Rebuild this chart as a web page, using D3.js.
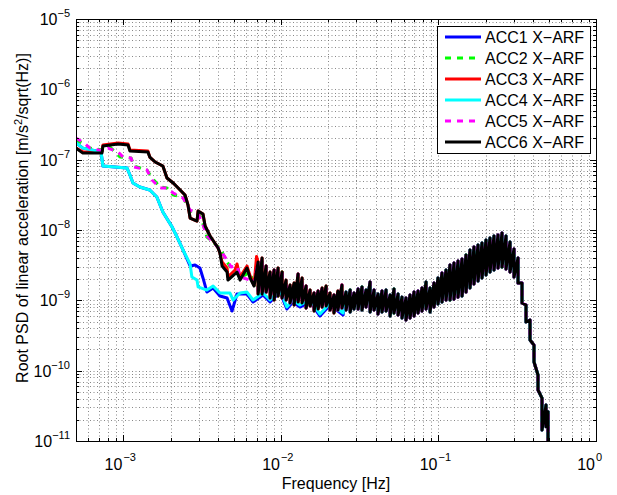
<!DOCTYPE html>
<html>
<head>
<meta charset="utf-8">
<script src="https://cdn.jsdelivr.net/npm/d3@7"></script>
<style>
  body { margin: 0; background: #fff; }
  svg text { font-family: "Liberation Sans", Arial, Helvetica, sans-serif; fill: #000; }
</style>
</head>
<body>
<svg id="chart" width="617" height="495"></svg>
<script>
// [frequency Hz, root PSD m/s^2/sqrt(Hz)]

// ACC1 (blue) low-frequency part
const acc1Low = [
  [5.00e-4, 1.73e-7], [5.53e-4, 1.46e-7], [7.21e-4, 1.29e-7], [7.41e-4, 8.13e-8],
  [1.054e-3, 7.61e-8], [1.10e-3, 6.05e-8], [1.15e-3, 4.66e-8], [1.27e-3, 4.09e-8],
  [1.47e-3, 3.70e-8], [1.63e-3, 2.94e-8], [1.78e-3, 1.80e-8], [2.04e-3, 1.10e-8],
  [2.19e-3, 7.95e-9], [2.39e-3, 5.20e-9], [2.65e-3, 3.08e-9], [2.85e-3, 3.18e-9],
  [3.06e-3, 2.88e-9], [3.20e-3, 2.08e-9], [3.39e-3, 1.31e-9], [3.71e-3, 1.50e-9],
  [4.10e-3, 1.15e-9], [4.55e-3, 1.08e-9], [4.89e-3, 7.04e-10], [5.26e-3, 1.23e-9],
  [6.09e-3, 1.23e-9], [6.65e-3, 9.46e-10], [7.69e-3, 1.19e-9], [8.53e-3, 9.46e-10],
  [9.87e-3, 1.31e-9], [1.09e-2, 7.52e-10], [1.19e-2, 9.46e-10], [1.32e-2, 8.03e-10],
  [1.53e-2, 9.46e-10], [1.77e-2, 5.98e-10], [2.05e-2, 8.58e-10], [2.48e-2, 6.18e-10]
];

// ACC2 (green, dashed)
const acc2Low = [
  [5.00e-4, 1.90e-7], [5.62e-4, 1.67e-7], [6.13e-4, 1.46e-7], [7.41e-4, 1.37e-7],
  [8.22e-4, 1.51e-7], [9.51e-4, 1.09e-7], [1.117e-3, 1.06e-7], [1.168e-3, 8.13e-8],
  [1.41e-3, 7.13e-8], [1.52e-3, 5.49e-8], [1.71e-3, 4.09e-8], [1.89e-3, 3.95e-8],
  [2.07e-3, 3.14e-8], [2.39e-3, 2.94e-8], [2.65e-3, 1.86e-8], [2.98e-3, 1.80e-8],
  [3.16e-3, 1.34e-8], [3.39e-3, 7.95e-9], [3.82e-3, 6.32e-9], [4.10e-3, 5.55e-9],
  [4.55e-3, 3.51e-9], [4.82e-3, 2.88e-9], [5.26e-3, 2.45e-9], [5.50e-3, 2.08e-9],
  [6.37e-3, 2.53e-9], [6.75e-3, 1.55e-9]
];

// ACC3 (red)
const acc3Low = [
  [5.00e-4, 1.46e-7], [5.53e-4, 1.29e-7], [7.31e-4, 1.29e-7], [7.41e-4, 1.62e-7],
  [9.24e-4, 1.73e-7], [1.07e-3, 1.67e-7], [1.10e-3, 1.37e-7], [1.43e-3, 1.33e-7],
  [1.47e-3, 1.09e-7], [1.59e-3, 9.27e-8], [1.78e-3, 8.13e-8], [1.89e-3, 5.49e-8],
  [2.07e-3, 4.66e-8], [2.29e-3, 3.70e-8], [2.46e-3, 3.14e-8], [2.57e-3, 2.27e-8],
  [2.65e-3, 1.48e-8], [2.93e-3, 1.34e-8], [2.98e-3, 1.86e-8], [3.20e-3, 1.69e-8],
  [3.30e-3, 1.14e-8], [3.55e-3, 8.22e-9], [3.99e-3, 5.55e-9], [4.10e-3, 4.71e-9],
  [4.23e-3, 3.51e-9], [4.55e-3, 2.88e-9], [4.61e-3, 2.15e-9], [5.11e-3, 2.70e-9],
  [5.26e-3, 3.29e-9], [5.50e-3, 2.15e-9], [6.09e-3, 3.08e-9], [6.37e-3, 2.22e-9],
  [6.75e-3, 1.65e-9], [7.00e-3, 4.20e-9]
];

// ACC4 (cyan)
const acc4Low = [
  [5.00e-4, 1.73e-7], [5.53e-4, 1.46e-7], [7.21e-4, 1.29e-7], [7.41e-4, 8.13e-8],
  [1.054e-3, 7.61e-8], [1.10e-3, 6.05e-8], [1.15e-3, 4.66e-8], [1.27e-3, 4.09e-8],
  [1.47e-3, 3.70e-8], [1.63e-3, 2.94e-8], [1.78e-3, 1.80e-8], [2.04e-3, 1.10e-8],
  [2.19e-3, 7.95e-9], [2.39e-3, 5.20e-9], [2.65e-3, 3.29e-9], [2.72e-3, 2.15e-9],
  [2.93e-3, 1.94e-9], [2.98e-3, 1.55e-9], [3.39e-3, 1.40e-9], [3.71e-3, 1.60e-9],
  [4.10e-3, 1.27e-9], [4.75e-3, 1.27e-9], [4.97e-3, 1.01e-9], [5.50e-3, 1.27e-9],
  [6.09e-3, 1.31e-9], [6.65e-3, 1.01e-9], [7.69e-3, 1.27e-9], [8.53e-3, 1.01e-9],
  [9.87e-3, 1.40e-9], [1.09e-2, 8.03e-10], [1.19e-2, 1.01e-9], [1.32e-2, 8.58e-10],
  [1.53e-2, 1.01e-9], [1.77e-2, 6.38e-10], [2.05e-2, 9.16e-10], [2.48e-2, 6.60e-10]
];

// ACC5 (magenta, dashed)
const acc5Low = [
  [5.00e-4, 2.03e-7], [5.62e-4, 1.73e-7], [6.13e-4, 1.46e-7], [7.41e-4, 1.33e-7],
  [7.98e-4, 1.46e-7], [9.24e-4, 1.29e-7], [9.93e-4, 1.09e-7], [1.117e-3, 1.06e-7],
  [1.168e-3, 7.87e-8], [1.41e-3, 7.13e-8], [1.52e-3, 5.14e-8], [1.71e-3, 3.95e-8],
  [1.89e-3, 3.95e-8], [2.07e-3, 3.36e-8], [2.39e-3, 2.85e-8], [2.65e-3, 1.92e-8],
  [2.98e-3, 1.69e-8], [3.16e-3, 1.30e-8], [3.39e-3, 8.22e-9], [3.82e-3, 6.32e-9],
  [4.10e-3, 5.20e-9], [4.55e-3, 3.75e-9], [4.82e-3, 2.98e-9], [5.26e-3, 3.08e-9],
  [5.50e-3, 2.15e-9], [6.37e-3, 1.94e-9], [6.75e-3, 1.71e-9]
];

// ACC6 (black)
const acc6Low = [
  [5.00e-4, 1.46e-7], [5.53e-4, 1.24e-7], [7.31e-4, 1.24e-7], [7.41e-4, 1.56e-7],
  [9.24e-4, 1.67e-7], [1.07e-3, 1.62e-7], [1.10e-3, 1.33e-7], [1.43e-3, 1.29e-7],
  [1.47e-3, 1.09e-7], [1.59e-3, 9.27e-8], [1.78e-3, 8.13e-8], [1.89e-3, 5.49e-8],
  [2.07e-3, 4.66e-8], [2.29e-3, 3.70e-8], [2.46e-3, 3.14e-8], [2.57e-3, 2.27e-8],
  [2.65e-3, 1.48e-8], [2.93e-3, 1.34e-8], [2.98e-3, 1.86e-8], [3.20e-3, 1.69e-8],
  [3.30e-3, 1.14e-8], [3.55e-3, 8.22e-9], [3.99e-3, 5.55e-9], [4.10e-3, 4.71e-9],
  [4.23e-3, 3.08e-9], [4.55e-3, 2.53e-9], [4.61e-3, 1.94e-9], [5.11e-3, 2.37e-9],
  [5.26e-3, 2.53e-9], [5.50e-3, 1.94e-9], [6.09e-3, 2.88e-9], [6.37e-3, 2.08e-9],
  [6.75e-3, 1.60e-9]
];

// common high-frequency part (all six overlap): [frequency, band top, band bottom]
// the fast noise makes the trace a solid band between these two edges
const sharedBand = [
  [7.16e-3, 3.51e-9, 1.23e-9], [7.59e-3, 4.00e-9, 1.23e-9], [8.05e-3, 3.08e-9, 1.31e-9],
  [8.53e-3, 2.53e-9, 1.08e-9], [9.05e-3, 2.70e-9, 1.01e-9], [9.59e-3, 2.88e-9, 1.15e-9],
  [1.017e-2, 2.53e-9, 1.08e-9], [1.078e-2, 1.94e-9, 1.01e-9], [1.143e-2, 1.65e-9, 9.16e-10],
  [1.212e-2, 1.76e-9, 8.58e-10], [1.285e-2, 2.37e-9, 9.46e-10], [1.362e-2, 2.08e-9, 9.16e-10],
  [1.444e-2, 1.60e-9, 7.77e-10], [1.531e-2, 1.40e-9, 8.30e-10], [1.623e-2, 1.27e-9, 7.04e-10],
  [1.721e-2, 1.36e-9, 7.52e-10], [1.825e-2, 1.50e-9, 8.03e-10], [1.935e-2, 1.60e-9, 8.30e-10],
  [2.05e-2, 1.27e-9, 7.28e-10], [2.17e-2, 1.19e-9, 6.60e-10], [2.30e-2, 1.36e-9, 7.28e-10],
  [2.44e-2, 1.65e-9, 7.77e-10], [2.59e-2, 1.31e-9, 7.28e-10], [2.75e-2, 1.40e-9, 6.82e-10],
  [2.91e-2, 1.27e-9, 7.52e-10], [3.09e-2, 1.45e-9, 7.52e-10], [3.27e-2, 1.55e-9, 7.28e-10],
  [3.47e-2, 1.40e-9, 8.03e-10], [3.68e-2, 1.82e-9, 6.82e-10], [3.90e-2, 1.40e-9, 7.28e-10],
  [4.13e-2, 1.23e-9, 6.38e-10], [4.38e-2, 1.36e-9, 6.82e-10], [4.65e-2, 1.40e-9, 7.04e-10],
  [4.93e-2, 1.19e-9, 5.98e-10], [5.22e-2, 1.45e-9, 6.60e-10], [5.54e-2, 1.23e-9, 6.18e-10],
  [5.87e-2, 1.11e-9, 5.60e-10], [6.22e-2, 1.08e-9, 5.24e-10], [6.60e-2, 1.19e-9, 5.60e-10],
  [7.00e-2, 1.31e-9, 5.98e-10], [7.42e-2, 1.36e-9, 6.60e-10], [7.86e-2, 1.50e-9, 7.04e-10],
  [8.34e-2, 1.82e-9, 7.52e-10], [8.84e-2, 1.50e-9, 6.82e-10], [9.37e-2, 1.76e-9, 8.03e-10],
  [9.93e-2, 2.08e-9, 8.86e-10], [0.1053, 2.45e-9, 9.46e-10], [0.1117, 2.70e-9, 1.01e-9],
  [0.1184, 3.18e-9, 1.01e-9], [0.1255, 3.39e-9, 1.04e-9], [0.1331, 3.62e-9, 1.11e-9],
  [0.1411, 3.87e-9, 1.15e-9], [0.1496, 4.41e-9, 1.31e-9], [0.1586, 5.20e-9, 1.50e-9],
  [0.1681, 5.73e-9, 1.71e-9], [0.1783, 6.12e-9, 1.88e-9], [0.1890, 6.53e-9, 2.08e-9],
  [0.2004, 7.21e-9, 2.29e-9], [0.2124, 7.69e-9, 2.53e-9], [0.2252, 8.22e-9, 2.70e-9],
  [0.2388, 8.49e-9, 2.88e-9], [0.2532, 9.06e-9, 2.98e-9], [0.2684, 8.22e-9, 2.79e-9],
  [0.2846, 6.75e-9, 2.53e-9], [0.3017, 5.37e-9, 2.15e-9], [0.3199, 4.00e-9, 1.76e-9],
  [0.3391, 1.76e-9, 9.16e-10], [0.3595, 8.58e-10, 4.92e-10], [0.3812, 5.24e-10, 2.73e-10],
  [0.4041, 2.31e-10, 1.33e-10], [0.4284, 8.67e-11, 5.31e-11], [0.4542, 4.08e-11, 1.43e-11],
  [0.4816, 3.25e-11, 1.6e-11], [0.496, 2.6e-11, 9.0e-12]
];

const seriesNames = ['ACC1 X\u2212ARF', 'ACC2 X\u2212ARF', 'ACC3 X\u2212ARF',
                     'ACC4 X\u2212ARF', 'ACC5 X\u2212ARF', 'ACC6 X\u2212ARF'];
const seriesColors = ['#0000ff', '#00ff00', '#ff0000', '#00ffff', '#ff00ff', '#000000'];
const seriesDashed = [false, true, false, false, true, false];

const xDecades = [1e-3, 1e-2, 1e-1, 1];
const yDecades = [1e-11, 1e-10, 1e-9, 1e-8, 1e-7, 1e-6, 1e-5];

// band -> trace: go top then bottom at each frequency
const sharedHigh = sharedBand.flatMap(d => [[d[0], d[1]], [d[0], d[2]]]);

// cyan/blue run lower until ~0.025 Hz, the others join earlier
const seriesData = [
  acc1Low.concat(sharedHigh.filter(d => d[0] > 0.025)),
  acc2Low.concat(sharedHigh),
  acc3Low.concat(sharedHigh),
  acc4Low.concat(sharedHigh.filter(d => d[0] > 0.025)),
  acc5Low.concat(sharedHigh),
  acc6Low.concat(sharedHigh)
];

const plotL = 76, plotR = 596, plotT = 19, plotB = 441;

const svg = d3.select('#chart');
svg.append('rect').attr('width', 617).attr('height', 495).attr('fill', '#fff');

const x = d3.scaleLog().domain([5e-4, 1]).range([plotL, plotR]);
const y = d3.scaleLog().domain([1e-11, 1e-5]).range([plotB, plotT]);

svg.append('clipPath').attr('id', 'plotclip')
  .append('rect').attr('x', plotL).attr('y', plotT)
  .attr('width', plotR - plotL).attr('height', plotB - plotT);

// grid (dotted, MATLAB style)
let grid = svg.append('g')
  .attr('stroke', '#6a6a6a').attr('stroke-width', 0.8)
  .attr('stroke-dasharray', '1,2.5');

grid.selectAll('.gx').data(x.ticks()).enter().append('line')
  .attr('x1', d => Math.round(x(d)) + 0.5).attr('x2', d => Math.round(x(d)) + 0.5)
  .attr('y1', plotT).attr('y2', plotB);

grid.selectAll('.gy').data(y.ticks()).enter().append('line')
  .attr('y1', d => Math.round(y(d)) + 0.5).attr('y2', d => Math.round(y(d)) + 0.5)
  .attr('x1', plotL).attr('x2', plotR);

// traces
let line = d3.line().x(d => x(d[0])).y(d => y(d[1]));

let traces = svg.append('g').attr('clip-path', 'url(#plotclip)');
traces.selectAll('path')
  .data(seriesData)
  .enter()
  .append('path')
  .attr('d', line)
  .attr('fill', 'none')
  .attr('stroke', (d, i) => seriesColors[i])
  .attr('stroke-width', 3)
  .attr('stroke-linejoin', 'round')
  .attr('stroke-dasharray', (d, i) => seriesDashed[i] ? '6,6' : null);

// ticks, inward on all four sides
let ticks = svg.append('g').attr('stroke', '#000').attr('stroke-width', 1);
x.ticks().forEach(t => {
  const len = xDecades.includes(t) ? 6 : 3;
  const px = Math.round(x(t)) + 0.5;
  ticks.append('line').attr('x1', px).attr('x2', px).attr('y1', plotB).attr('y2', plotB - len);
  ticks.append('line').attr('x1', px).attr('x2', px).attr('y1', plotT).attr('y2', plotT + len);
});
y.ticks().forEach(t => {
  const len = yDecades.includes(t) ? 6 : 3;
  const py = Math.round(y(t)) + 0.5;
  ticks.append('line').attr('y1', py).attr('y2', py).attr('x1', plotL).attr('x2', plotL + len);
  ticks.append('line').attr('y1', py).attr('y2', py).attr('x1', plotR).attr('x2', plotR - len);
});

// axes box
svg.append('rect')
  .attr('x', plotL + 0.5).attr('y', plotT + 0.5)
  .attr('width', plotR - plotL).attr('height', plotB - plotT)
  .attr('fill', 'none').attr('stroke', '#000').attr('stroke-width', 1);

// tick labels
xDecades.forEach(t => {
  const e = Math.round(Math.log10(t));
  const px = x(t);
  svg.append('text').attr('x', px - 1).attr('y', 470)
    .attr('text-anchor', 'end').attr('font-size', 16).text('10');
  svg.append('text').attr('x', px).attr('y', 461)
    .attr('font-size', 11).text(e < 0 ? '\u2212' + (-e) : String(e));
});

yDecades.forEach(t => {
  const e = Math.round(Math.log10(t));
  const py = y(t);
  const lab = svg.append('text').attr('x', 70).attr('y', py + 6)
    .attr('text-anchor', 'end').attr('font-size', 16);
  lab.append('tspan').text('10');
  lab.append('tspan').attr('dy', -8).attr('font-size', 11).text('\u2212' + (-e));
});

// axis labels
svg.append('text').attr('x', (plotL + plotR) / 2).attr('y', 489)
  .attr('text-anchor', 'middle').attr('font-size', 16).text('Frequency [Hz]');

let ylab = svg.append('text')
  .attr('transform', 'translate(28,218) rotate(-90)')
  .attr('text-anchor', 'middle').attr('font-size', 16);
ylab.append('tspan').text('Root PSD of linear acceleration [m/s');
ylab.append('tspan').attr('dy', -6).attr('font-size', 11).text('2');
ylab.append('tspan').attr('dy', 6).text('/sqrt(Hz)]');

// legend
let legend = svg.append('g');
legend.append('rect').attr('x', 437.5).attr('y', 26.5).attr('width', 153).attr('height', 127)
  .attr('fill', '#fff').attr('stroke', '#000').attr('stroke-width', 1);

seriesNames.forEach((name, i) => {
  const ly = 37 + i * 21;
  legend.append('line')
    .attr('x1', 445).attr('x2', 481).attr('y1', ly).attr('y2', ly)
    .attr('stroke', seriesColors[i]).attr('stroke-width', 3)
    .attr('stroke-dasharray', seriesDashed[i] ? '6,6' : null);
  legend.append('text').attr('x', 485).attr('y', ly + 6)
    .attr('font-size', 16).text(name);
});
</script>
</body>
</html>
